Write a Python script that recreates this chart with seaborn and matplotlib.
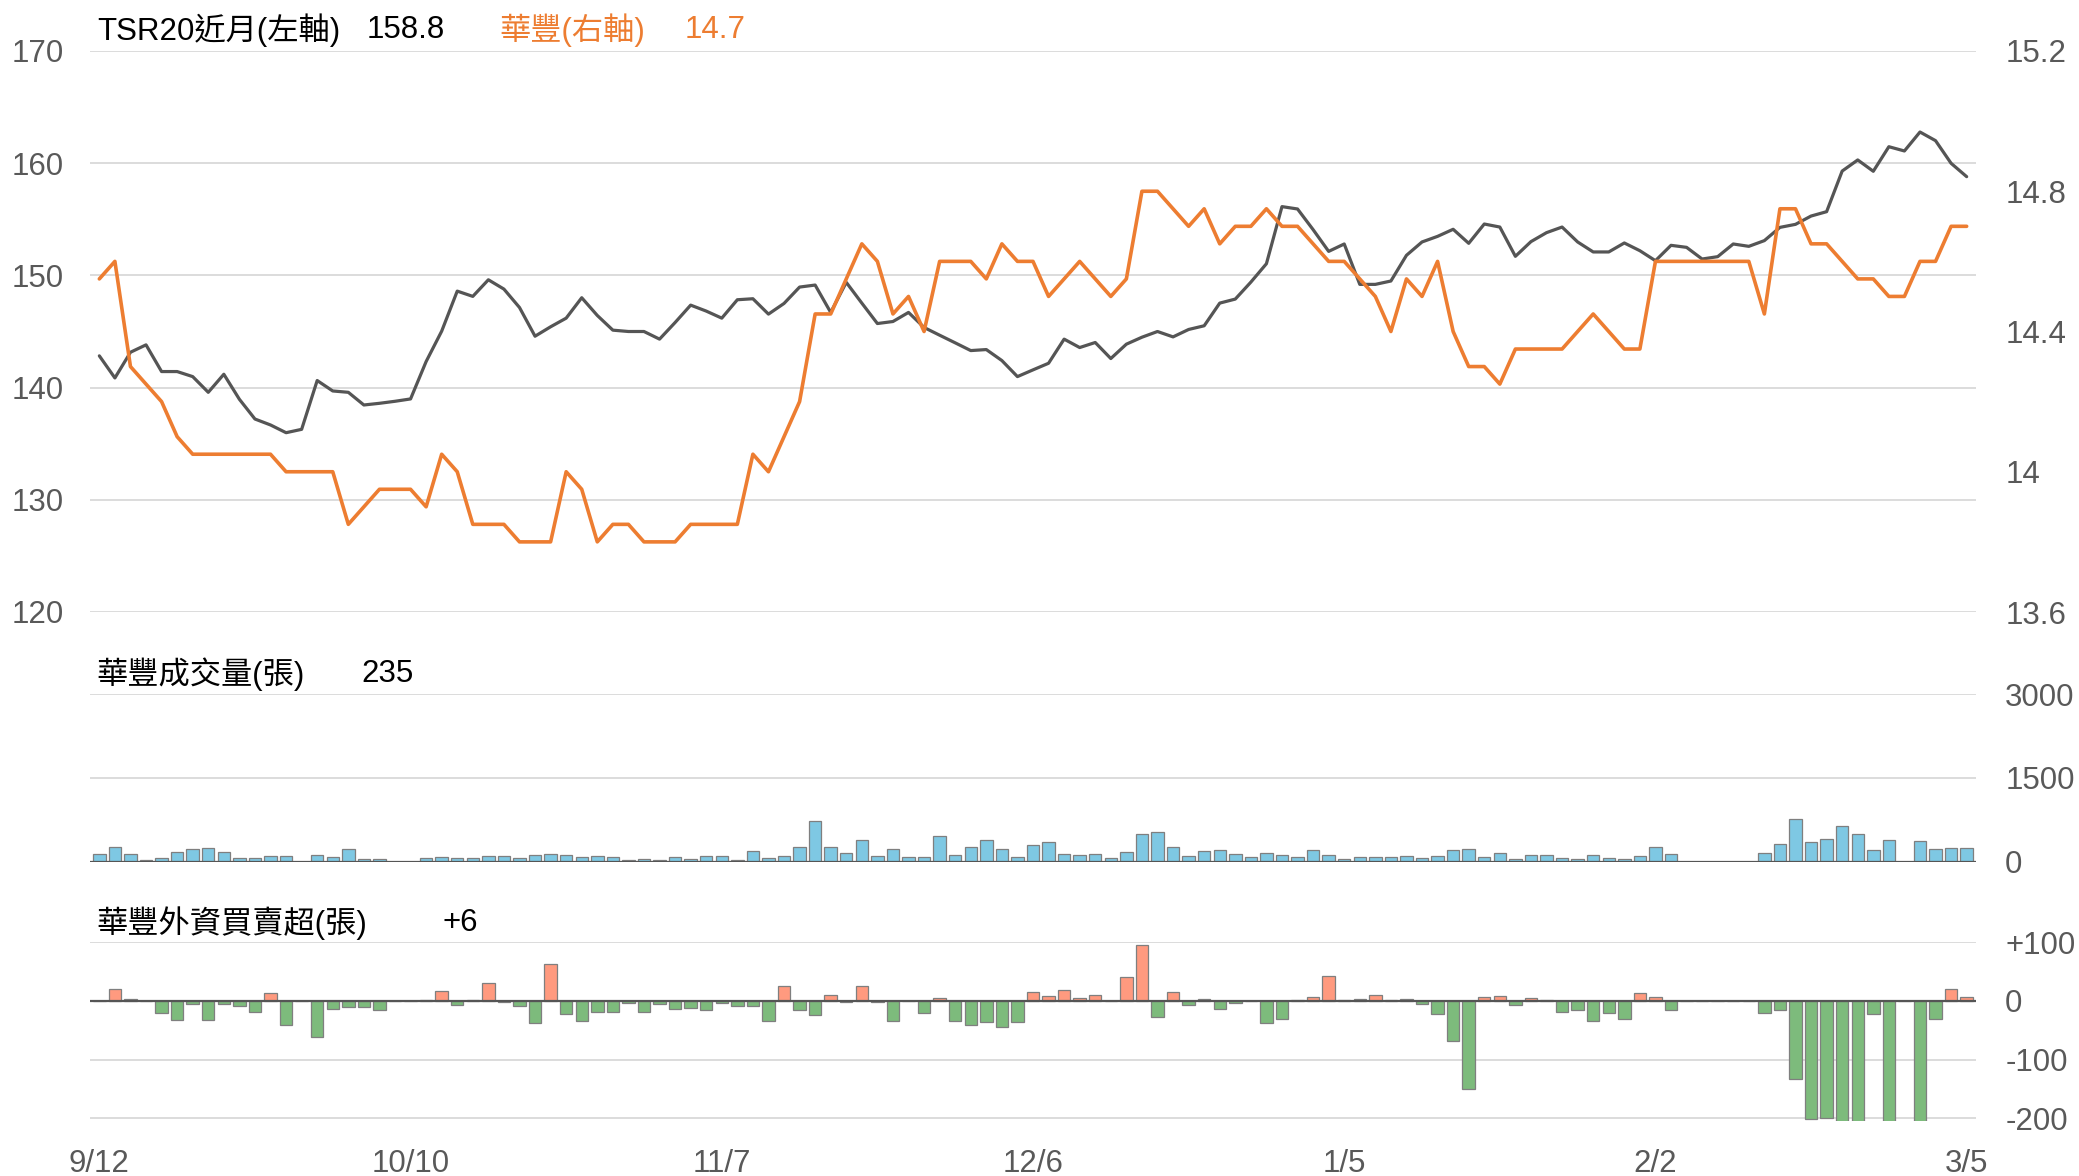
import numpy as np
import pandas as pd
import matplotlib
matplotlib.use("Agg")
import matplotlib.pyplot as plt
import seaborn as sns

# ---- data ----
tick_pos = [0, 20, 40, 60, 80, 100, 120]
tick_labels = ['9/12', '10/10', '11/7', '12/6', '1/5', '2/2', '3/5']

tsr20 = [
    142.83, 140.86, 143.15, 143.81, 141.43, 141.43, 140.98, 139.58, 141.19, 138.96,
    137.20, 136.67, 135.98, 136.28, 140.63, 139.70, 139.58, 138.45, 138.60, 138.78,
    138.99, 142.32, 145.03, 148.60, 148.13, 149.61, 148.78, 147.14, 144.58, 145.42,
    146.19, 148.01, 146.43, 145.12, 145.00, 145.00, 144.32, 145.80, 147.35, 146.82,
    146.19, 147.83, 147.92, 146.55, 147.50, 148.96, 149.14, 146.70, 149.38, 147.53,
    145.71, 145.89, 146.70, 145.36, 144.67, 143.99, 143.30, 143.39, 142.41, 140.98,
    141.58, 142.17, 144.32, 143.57, 144.02, 142.59, 143.87, 144.49, 145.00, 144.52,
    145.18, 145.51, 147.53, 147.89, 149.40, 151.04, 156.13, 155.92, 154.08, 152.14,
    152.80, 149.20, 149.20, 149.50, 151.79, 152.98, 153.48, 154.11, 152.86, 154.58,
    154.31, 151.70, 153.01, 153.81, 154.31, 152.98, 152.09, 152.09, 152.89, 152.20,
    151.31, 152.68, 152.50, 151.46, 151.67, 152.80, 152.59, 153.10, 154.28, 154.55,
    155.29, 155.68, 159.30, 160.29, 159.28, 161.47, 161.09, 162.78, 162.01, 159.99,
    158.80,
]

huafeng = [
    14.55, 14.60, 14.30, 14.25, 14.20, 14.10, 14.05, 14.05, 14.05, 14.05,
    14.05, 14.05, 14.00, 14.00, 14.00, 14.00, 13.85, 13.90, 13.95, 13.95,
    13.95, 13.90, 14.05, 14.00, 13.85, 13.85, 13.85, 13.80, 13.80, 13.80,
    14.00, 13.95, 13.80, 13.85, 13.85, 13.80, 13.80, 13.80, 13.85, 13.85,
    13.85, 13.85, 14.05, 14.00, 14.10, 14.20, 14.45, 14.45, 14.55, 14.65,
    14.60, 14.45, 14.50, 14.40, 14.60, 14.60, 14.60, 14.55, 14.65, 14.60,
    14.60, 14.50, 14.55, 14.60, 14.55, 14.50, 14.55, 14.80, 14.80, 14.75,
    14.70, 14.75, 14.65, 14.70, 14.70, 14.75, 14.70, 14.70, 14.65, 14.60,
    14.60, 14.55, 14.50, 14.40, 14.55, 14.50, 14.60, 14.40, 14.30, 14.30,
    14.25, 14.35, 14.35, 14.35, 14.35, 14.40, 14.45, 14.40, 14.35, 14.35,
    14.60, 14.60, 14.60, 14.60, 14.60, 14.60, 14.60, 14.45, 14.75, 14.75,
    14.65, 14.65, 14.60, 14.55, 14.55, 14.50, 14.50, 14.60, 14.60, 14.70,
    14.70,
]

volume = [
    126, 257, 138, 24, 54, 167, 227, 239, 179, 66,
    60, 102, 102, 0, 120, 72, 215, 48, 36, 0,
    0, 60, 78, 60, 60, 90, 90, 60, 108, 138,
    120, 84, 90, 72, 24, 42, 30, 72, 42, 100,
    96, 30, 197, 66, 96, 251, 718, 251, 144, 383,
    96, 221, 78, 72, 460, 108, 257, 383, 221, 84,
    287, 341, 138, 120, 138, 60, 179, 484, 526, 263,
    90, 185, 203, 138, 78, 150, 120, 78, 203, 114,
    42, 78, 78, 78, 102, 60, 90, 203, 221, 72,
    161, 42, 114, 120, 60, 42, 114, 60, 42, 90,
    257, 126, 0, 0, 0, 0, 0, 155, 317, 765,
    353, 407, 640, 490, 203, 389, 0, 359, 221, 239,
    235,
]

foreign = [
    0, 21, 4, 0, -20, -32, -6, -32, -5, -8,
    -18, 13, -41, 0, -62, -13, -11, -10, -15, 0,
    0, 2, 17, -7, 1, 30, -1, -8, -38, 63,
    -23, -35, -18, -19, -4, -18, -6, -13, -12, -16,
    -4, -8, -8, -35, 26, -15, -24, 11, -1, 25,
    -2, -35, 0, -21, 5, -35, -41, -36, -45, -36,
    15, 9, 19, 5, 11, 0, 41, 96, -27, 15,
    -7, 4, -14, -3, 0, -38, -30, 2, 7, 42,
    2, 4, 10, 2, 3, -6, -22, -68, -150, 6,
    9, -7, 5, 1, -19, -15, -35, -20, -30, 14,
    6, -16, 0, 0, 0, 0, 0, -20, -16, -133,
    -202, -199, -240, -250, -23, -240, 0, -230, -30, 21,
    6,
]

# ---- style ----
sns.set_style("white")
plt.rcParams['font.family'] = ['Liberation Sans', 'Noto Sans CJK TC', 'DejaVu Sans']
plt.rcParams['axes.unicode_minus'] = False

GRAY_TXT = '#595959'
GRID = '#d9d9d9'
ORANGE = '#ed7d31'
LINE_GRAY = '#555555'
FS = 22.5

idx = np.arange(len(tsr20))
df = pd.DataFrame({'i': idx, 'tsr20': tsr20, 'huafeng': huafeng,
                   'volume': volume, 'foreign': foreign})
df['side'] = np.where(df['foreign'] >= 0, 'buy', 'sell')

W, H = 2079, 1176
fig = plt.figure(figsize=(W / 100, H / 100), dpi=100)


def box(left, top, right, bottom):
    return [left / W, 1 - bottom / H, (right - left) / W, (bottom - top) / H]


ax = fig.add_axes(box(90, 51, 1976, 612))
ax_v = fig.add_axes(box(90, 694, 1976, 861.5))
ax_f = fig.add_axes(box(90, 942.3, 1976, 1121.2))
xlim = (-0.6, 120.6)

# ---- top: price lines ----
sns.lineplot(data=df, x='i', y='tsr20', ax=ax, color=LINE_GRAY, linewidth=2.3, zorder=3)
ax.set_ylim(120, 170)
ax.set_yticks(range(120, 171, 10))
ax.grid(axis='y', color=GRID, linewidth=1.3)
ax.grid(axis='x', visible=False)

ax2 = ax.twinx()
sns.lineplot(data=df, x='i', y='huafeng', ax=ax2, color=ORANGE, linewidth=2.6, zorder=3)
ax2.set_ylim(13.6, 15.2)
ax2.set_yticks([13.6, 14.0, 14.4, 14.8, 15.2])
ax2.set_yticklabels(['13.6', '14', '14.4', '14.8', '15.2'])
ax2.grid(False)

for a in (ax, ax2):
    a.set_xlim(*xlim)
    a.set_xticks([])
    a.set_xlabel('')
    a.set_ylabel('')
    for s in a.spines.values():
        s.set_visible(False)
ax.tick_params(axis='y', length=0, pad=19, labelsize=FS, labelcolor=GRAY_TXT)
ax2.tick_params(axis='y', length=0, pad=21, labelsize=FS, labelcolor=GRAY_TXT)
for lab in ax2.get_yticklabels():
    lab.set_horizontalalignment('left')

# ---- middle: volume bars ----
sns.barplot(data=df, x='i', y='volume', ax=ax_v, color='#7ec8e3', width=0.8,
            edgecolor='#7f7f7f', linewidth=0.9, saturation=1)
ax_v.set_ylim(0, 3000)
ax_v.set_yticks([0, 1500, 3000])
ax_v.yaxis.tick_right()
ax_v.grid(axis='y', color=GRID, linewidth=1.3)
ax_v.axhline(0, color=LINE_GRAY, linewidth=1.6, zorder=5)

# ---- bottom: foreign net buy/sell ----
sns.barplot(data=df, x='i', y='foreign', hue='side', ax=ax_f, dodge=False,
            palette={'buy': '#ff9a7f', 'sell': '#7dbb7c'}, width=0.8,
            edgecolor='#7f7f7f', linewidth=0.9, saturation=1, legend=False)
ax_f.set_ylim(-205, 100)
ax_f.set_yticks([-200, -100, 0, 100])
ax_f.set_yticklabels(['-200', '-100', '0', '+100'])
ax_f.yaxis.tick_right()
ax_f.grid(axis='y', color=GRID, linewidth=1.3)
ax_f.axhline(0, color=LINE_GRAY, linewidth=1.6, zorder=5)

for a in (ax_v, ax_f):
    a.set_xlim(*xlim)
    a.set_xlabel('')
    a.set_ylabel('')
    a.grid(axis='x', visible=False)
    a.set_axisbelow(True)
    for s in a.spines.values():
        s.set_visible(False)
    a.tick_params(axis='y', length=0, pad=21, labelsize=FS, labelcolor=GRAY_TXT)
    for lab in a.get_yticklabels():
        lab.set_horizontalalignment('left')

ax_v.set_xticks([])
ax_f.set_xticks(tick_pos)
ax_f.set_xticklabels(tick_labels)
ax_f.tick_params(axis='x', length=0, pad=20, labelsize=FS, labelcolor=GRAY_TXT)

# ---- panel titles ----
def label(x, y, s, color='black'):
    fig.text(x / W, 1 - y / H, s, fontsize=FS, color=color, va='center', ha='left')


label(97, 30, 'TSR20近月(左軸)')
label(367, 30, f'{tsr20[-1]:.1f}')
label(499, 30, '華豐(右軸)', ORANGE)
label(685, 30, f'{huafeng[-1]:.1f}', ORANGE)
label(96, 674, '華豐成交量(張)')
label(361, 674, f'{volume[-1]}')
label(96, 923, '華豐外資買賣超(張)')
label(442, 923, f'{foreign[-1]:+d}')

fig.savefig('out.png', dpi=100, facecolor='white')
